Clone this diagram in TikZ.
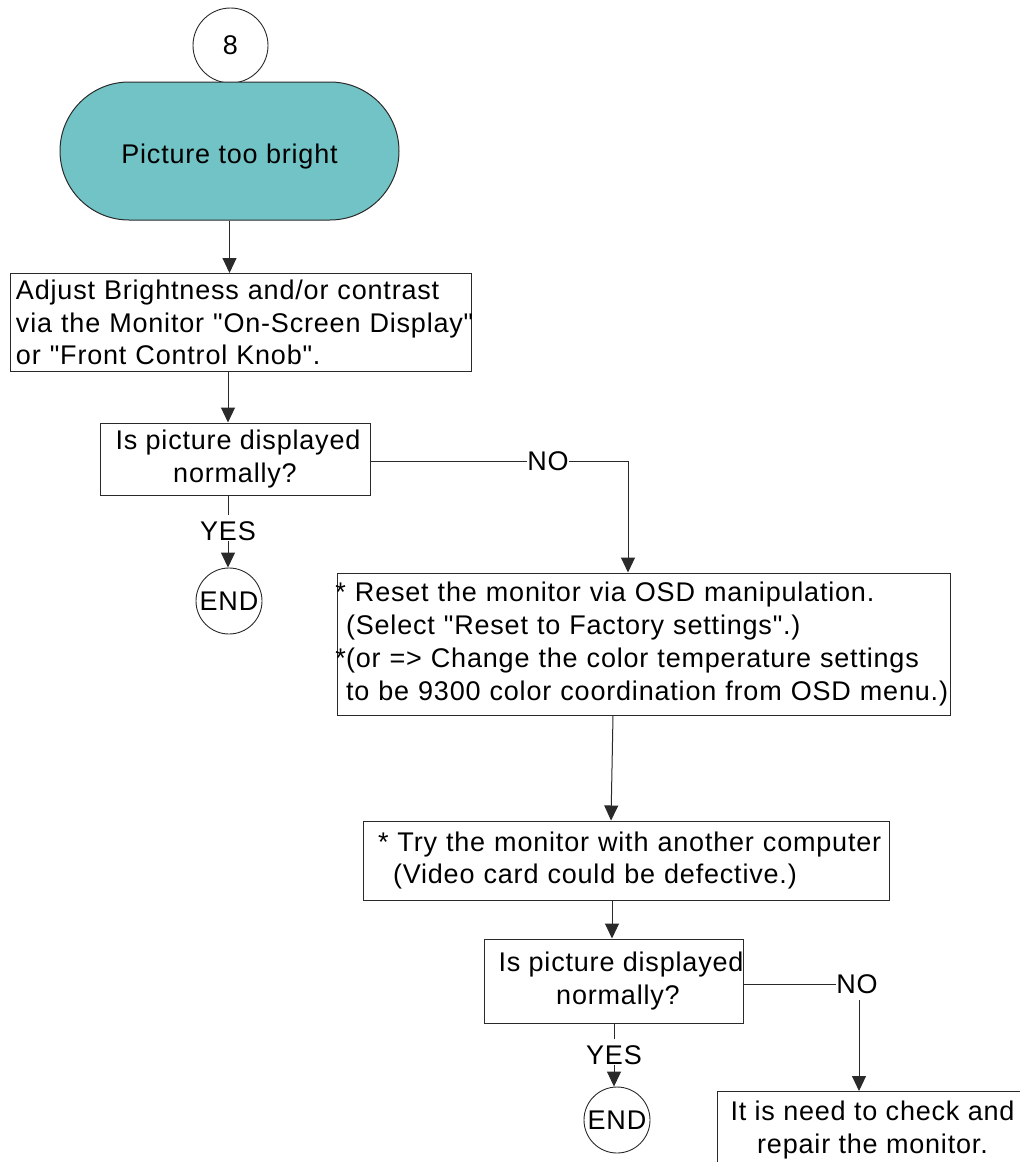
\documentclass[tikz,border=0pt]{standalone}
\usepackage{fontspec}
\newfontfamily\chartface{Liberation Sans}[LetterSpace=3]
\usetikzlibrary{arrows.meta}
\definecolor{startfill}{HTML}{72C3C5}
\definecolor{edge}{HTML}{2A2A2A}
\newcommand\chartfont{\chartface\fontsize{27}{32.5}\selectfont}

\begin{document}
\begin{tikzpicture}[x=1pt,y=-1pt,
  every node/.style={font=\chartfont, text=black},
  box/.style={draw=edge, line width=1pt, inner sep=0pt, rectangle},
  ring/.style={draw=edge, line width=0.9pt, circle, inner sep=0pt},
  lbl/.style={inner sep=0pt},
  flow/.style={draw=edge, line width=1pt},
  tip/.style={-{Triangle[length=15pt,width=14pt]}, draw=edge, line width=1pt}]
\useasboundingbox (0,0) rectangle (1020,1162);
\clip (0,0) rectangle (1020,1162);

% vertical guide lines of the connectors
\coordinate (spine1) at (228,0);
\coordinate (drop1) at (628,0);
\coordinate (spine2) at (612,0);
\coordinate (drop2) at (859,0);

% start of the chart
\node[ring, fill=white, minimum size=75pt] (n8) at (230.5,45.5) {8};
\node[box, fill=startfill, rounded corners=69pt, minimum width=339pt,
      minimum height=138pt, text height=24pt, text depth=0pt] (start)
  at (229.5,151) {Picture too bright};

% first adjustment
\node[box, minimum width=461pt, minimum height=98pt, text width=449pt,
      align=left] (adjust) at (240.5,322.5)
  {\mbox{Adjust Brightness and/or contrast}\\
   \mbox{via the Monitor "On-Screen Display"}\\
   \mbox{or "Front Control Knob".}};

% first check
\node[box, minimum width=270pt, minimum height=72pt, align=center] (q1)
  at (235,459) {\hspace*{6pt}Is picture displayed\\normally?};
\node[lbl] (yes1) at (228,531) {YES};
\node[ring, minimum size=66pt] (end1) at (229,601) {END};
\node[lbl] (no1) at (548,461) {NO};

% reset step
\node[box, minimum width=613pt, minimum height=142pt, text width=595pt,
      align=left, font=\chartface\fontsize{27}{33.3}\selectfont] (reset)
  at (643.5,644)
  {\mbox{\llap{*}~Reset the monitor via OSD manipulation.}\\
   \mbox{(Select "Reset to Factory settings".)}\\
   \mbox{\llap{*}(or => Change the color temperature settings}\\
   \mbox{to be 9300 color coordination from OSD menu.)}};

% another computer
\node[box, minimum width=526pt, minimum height=79pt, text width=496pt,
      align=left] (tryit) at (626,860.5)
  {\mbox{* Try the monitor with another computer}\\
   \mbox{\hspace*{15pt}(Video card could be defective.)}};

% second check
\node[box, minimum width=256pt, minimum height=84pt, align=center] (q2)
  at (614,981) {\hspace*{14pt}Is picture displayed\\\hspace*{8pt}normally?};
\node[lbl] (yes2) at (614,1055) {YES};
\node[ring, minimum size=66pt] (end2) at (617,1120) {END};
\node[lbl] (no2) at (857,984) {NO};

% repair
\node[box, minimum width=310pt, minimum height=78pt, align=center,
      anchor=north west, font=\chartface\fontsize{27}{33}\selectfont] (repair)
  at (717,1091) {It is need to check and\\repair the monitor.};

% connectors
\draw[tip] (start.south) -- (start.south |- adjust.north);
\draw[tip] (adjust.south -| spine1) -- (q1.north -| spine1);
\draw[flow] (q1.south -| yes1) -- ([yshift=6pt]yes1.north);
\draw[tip] (yes1.south) -- (yes1.south |- end1.north);
\draw[flow] (q1.east |- no1.west) -- (no1.west);
\draw[tip] (no1.east) -| (drop1 |- reset.north);
\draw[tip] ([xshift=-30.5pt]reset.south) -- ([xshift=-15pt]tryit.north);
\draw[tip] (tryit.south -| spine2) -- (q2.north -| spine2);
\draw[flow] (q2.south -| yes2) -- ([yshift=6pt]yes2.north);
\draw[tip] (yes2.south) -- (yes2.south |- end2.north);
\draw[flow] (q2.east |- no2.west) -- (no2.west);
\draw[tip] ([yshift=-6pt]no2.south -| drop2) -- (drop2 |- repair.north);
\end{tikzpicture}
\end{document}
